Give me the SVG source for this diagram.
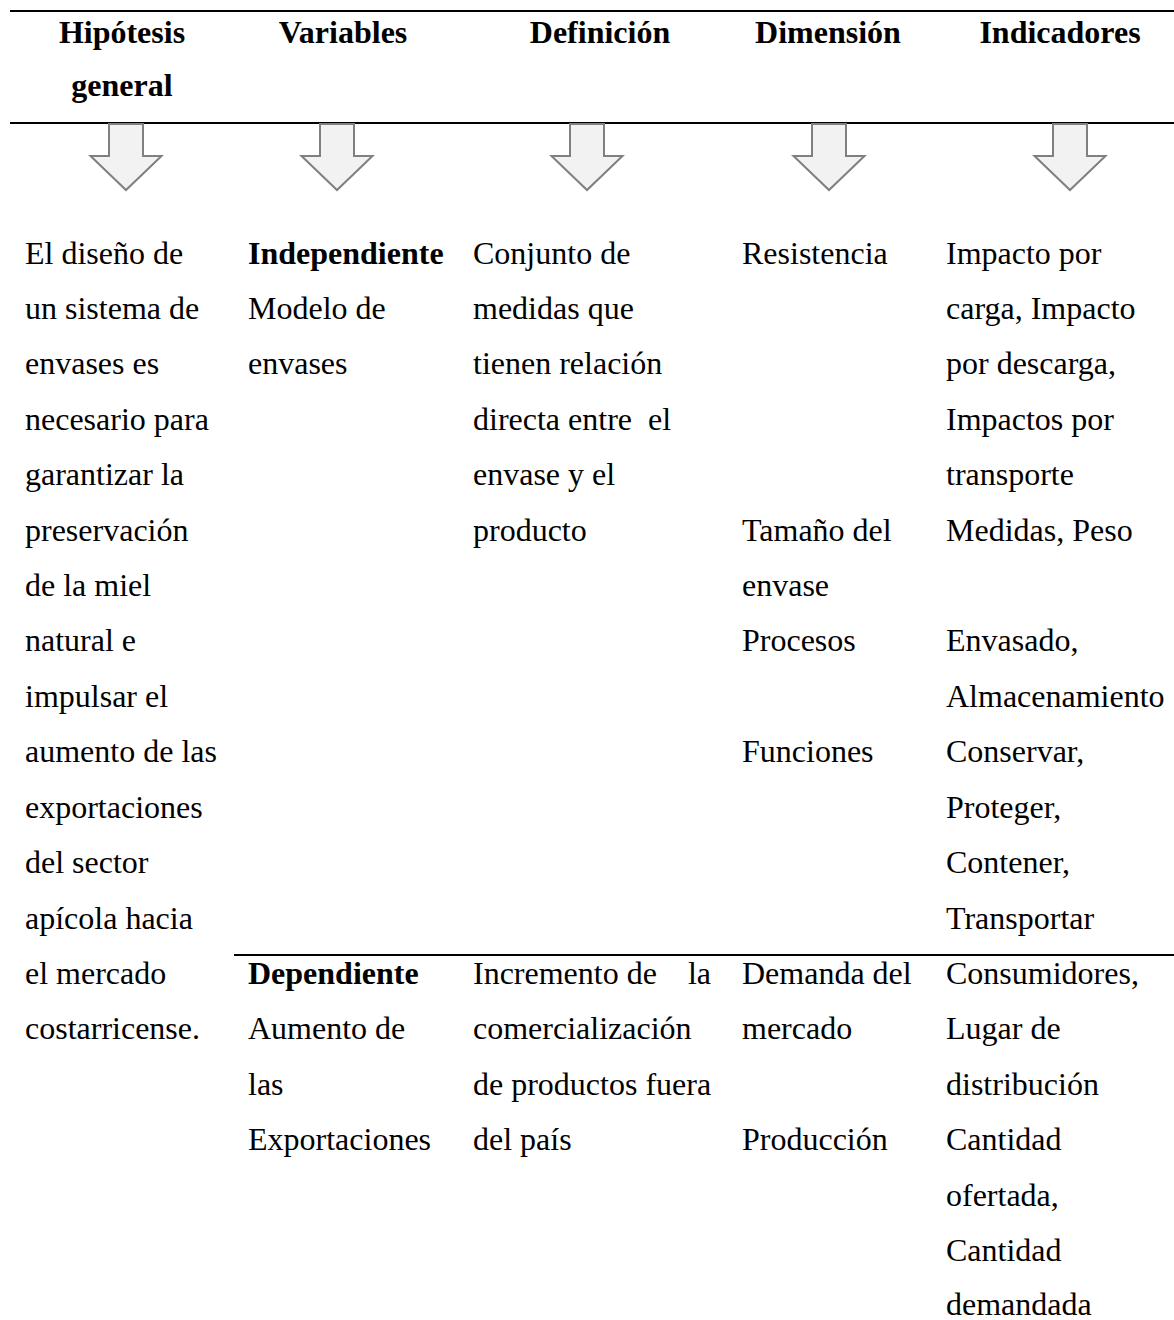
<svg xmlns="http://www.w3.org/2000/svg" width="1174" height="1320" viewBox="0 0 1174 1320">
<defs>
<style>
.h{font-family:"Liberation Serif","Times New Roman",serif;font-size:32px;font-weight:bold;fill:#000;text-anchor:middle}
.t{font-family:"Liberation Serif","Times New Roman",serif;font-size:32px;fill:#000}
.b{font-weight:bold}
.rule{stroke:#000;stroke-width:2.2;fill:none}
.arr{fill:#f2f2f2;stroke:#808080;stroke-width:2;stroke-linejoin:miter}
</style>
<path id="arrow" d="M-17,0 H17 V32 H35.5 L0,66 L-35.5,32 H-17 Z"/>
</defs>
<rect width="1174" height="1320" fill="#fff"/>
<g id="connectors">
<line class="rule" x1="10" y1="11" x2="1174" y2="11"/>
<line class="rule" x1="10" y1="123" x2="1174" y2="123"/>
<line class="rule" x1="234" y1="955" x2="1174" y2="955"/>
<use href="#arrow" class="arr" x="126" y="124"/>
<use href="#arrow" class="arr" x="337" y="124"/>
<use href="#arrow" class="arr" x="587" y="124"/>
<use href="#arrow" class="arr" x="829" y="124"/>
<use href="#arrow" class="arr" x="1070" y="124"/>
</g>
<g id="header">
<text class="h" x="122" y="43">Hipótesis</text>
<text class="h" x="122" y="96">general</text>
<text class="h" x="343" y="43">Variables</text>
<text class="h" x="600" y="43">Definición</text>
<text class="h" x="828" y="43">Dimensión</text>
<text class="h" x="1060" y="43">Indicadores</text>
</g>
<g id="col-hipotesis">
<text class="t" x="25" y="263.5">El diseño de</text>
<text class="t" x="25" y="318.9">un sistema de</text>
<text class="t" x="25" y="374.3">envases es</text>
<text class="t" x="25" y="429.8">necesario para</text>
<text class="t" x="25" y="485.2">garantizar la</text>
<text class="t" x="25" y="540.6">preservación</text>
<text class="t" x="25" y="596">de la miel</text>
<text class="t" x="25" y="651.4">natural e</text>
<text class="t" x="25" y="706.9">impulsar el</text>
<text class="t" x="25" y="762.3">aumento de las</text>
<text class="t" x="25" y="817.7">exportaciones</text>
<text class="t" x="25" y="873.1">del sector</text>
<text class="t" x="25" y="928.5">apícola hacia</text>
<text class="t" x="25" y="984">el mercado</text>
<text class="t" x="25" y="1039.4">costarricense.</text>
</g>
<g id="col-variables">
<text class="t b" x="248" y="263.5">Independiente</text>
<text class="t" x="248" y="318.9">Modelo de</text>
<text class="t" x="248" y="374.3">envases</text>
<text class="t b" x="248" y="984">Dependiente</text>
<text class="t" x="248" y="1039.4">Aumento de</text>
<text class="t" x="248" y="1094.8">las</text>
<text class="t" x="248" y="1150.2">Exportaciones</text>
</g>
<g id="col-definicion">
<text class="t" x="473" y="263.5">Conjunto de</text>
<text class="t" x="473" y="318.9">medidas que</text>
<text class="t" x="473" y="374.3">tienen relación</text>
<text class="t" x="473" y="429.8" xml:space="preserve">directa entre  el</text>
<text class="t" x="473" y="485.2">envase y el</text>
<text class="t" x="473" y="540.6">producto</text>
<text class="t" x="473" y="984">Incremento de</text>
<text class="t" x="711" y="984" text-anchor="end">la</text>
<text class="t" x="473" y="1039.4">comercialización</text>
<text class="t" x="473" y="1094.8">de productos fuera</text>
<text class="t" x="473" y="1150.2">del país</text>
</g>
<g id="col-dimension">
<text class="t" x="742" y="263.5">Resistencia</text>
<text class="t" x="742" y="540.6">Tamaño del</text>
<text class="t" x="742" y="596">envase</text>
<text class="t" x="742" y="651.4">Procesos</text>
<text class="t" x="742" y="762.3">Funciones</text>
<text class="t" x="742" y="984">Demanda del</text>
<text class="t" x="742" y="1039.4">mercado</text>
<text class="t" x="742" y="1150.2">Producción</text>
</g>
<g id="col-indicadores">
<text class="t" x="946" y="263.5">Impacto por</text>
<text class="t" x="946" y="318.9">carga, Impacto</text>
<text class="t" x="946" y="374.3">por descarga,</text>
<text class="t" x="946" y="429.8">Impactos por</text>
<text class="t" x="946" y="485.2">transporte</text>
<text class="t" x="946" y="540.6">Medidas, Peso</text>
<text class="t" x="946" y="651.4">Envasado,</text>
<text class="t" x="946" y="706.9">Almacenamiento</text>
<text class="t" x="946" y="762.3">Conservar,</text>
<text class="t" x="946" y="817.7">Proteger,</text>
<text class="t" x="946" y="873.1">Contener,</text>
<text class="t" x="946" y="928.5">Transportar</text>
<text class="t" x="946" y="984">Consumidores,</text>
<text class="t" x="946" y="1039.4">Lugar de</text>
<text class="t" x="946" y="1094.8">distribución</text>
<text class="t" x="946" y="1150.2">Cantidad</text>
<text class="t" x="946" y="1205.6">ofertada,</text>
<text class="t" x="946" y="1261">Cantidad</text>
<text class="t" x="946" y="1315">demandada</text>
</g>
</svg>
